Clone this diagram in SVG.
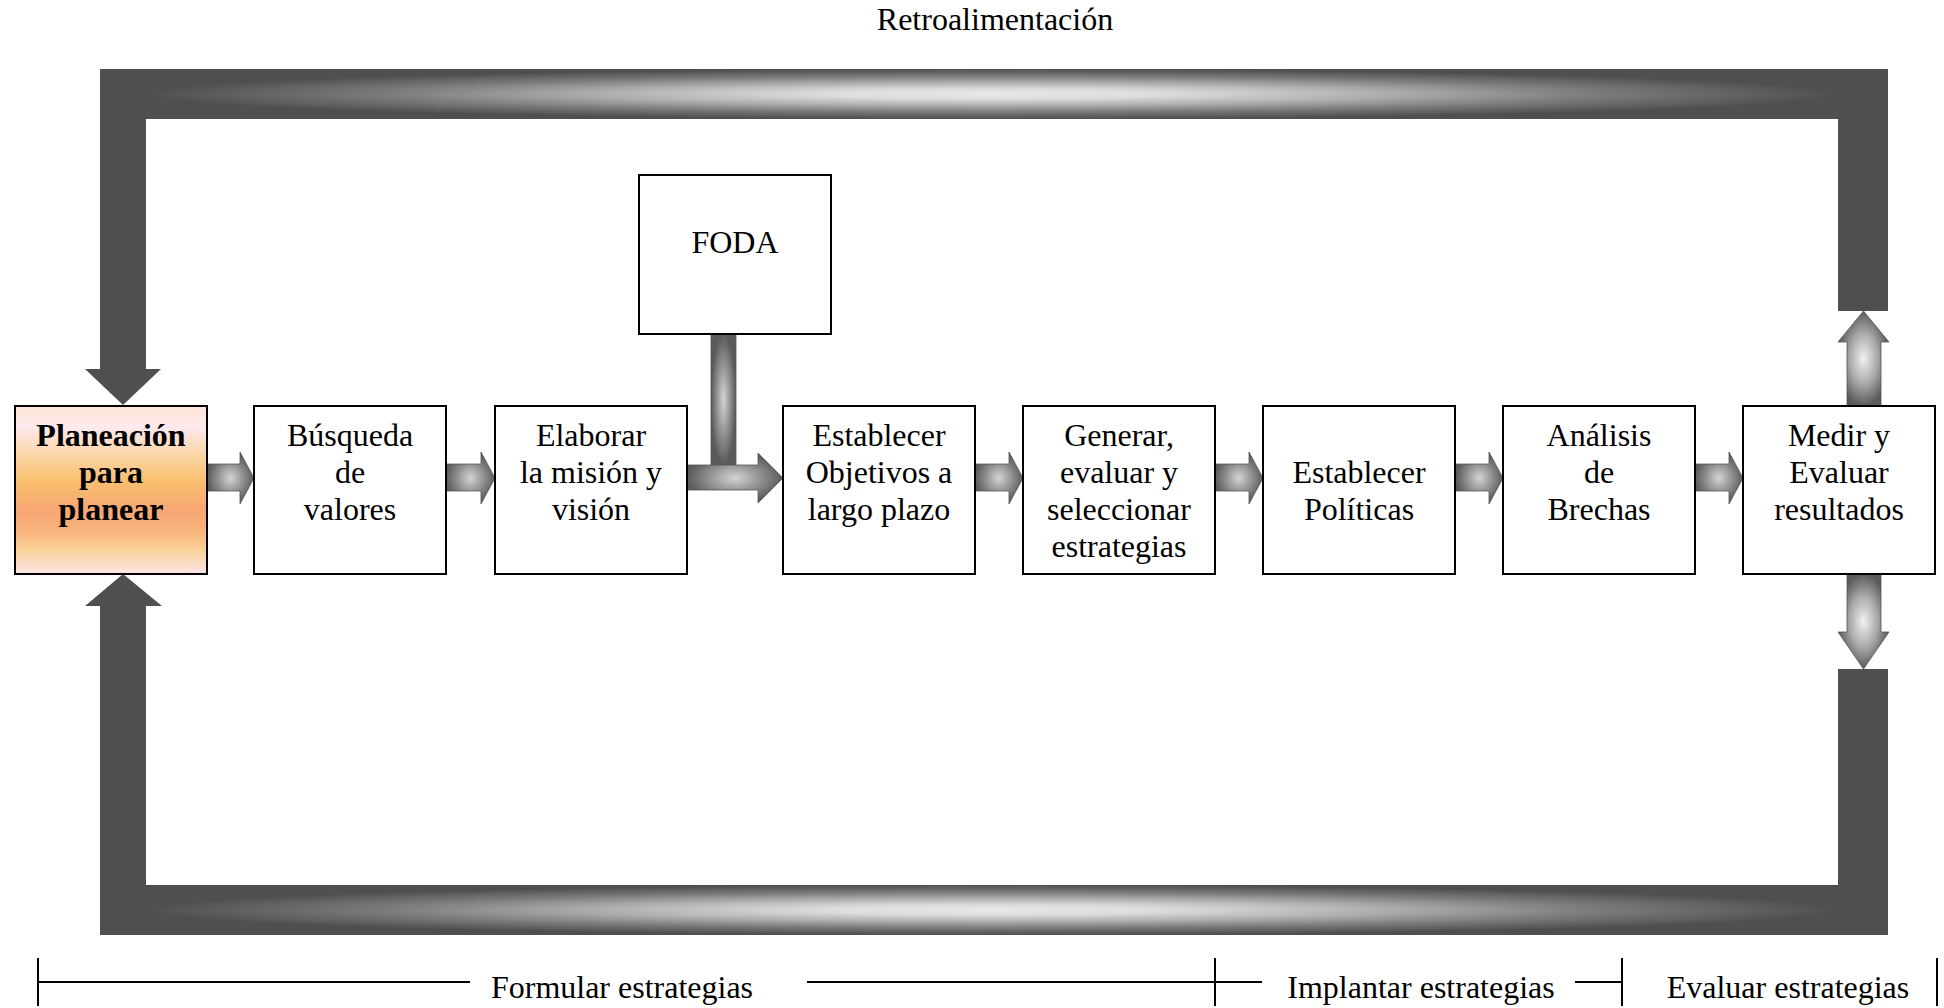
<svg xmlns="http://www.w3.org/2000/svg" width="1944" height="1008" viewBox="0 0 1944 1008">
  <defs>
    <style>
      .box { fill: #ffffff; stroke: #000000; stroke-width: 2; }
      .t { font-family: "Liberation Serif", "Times New Roman", serif; font-size: 32px; text-anchor: middle; fill: #000000; }
      .bold { font-weight: bold; }
      .bar { fill: #4f4f4f; }
      .tube { fill: url(#tubeGrad); }
      .arrH { fill: url(#arrowGrad); stroke: #555555; stroke-width: 0.8; }
      .arrV { fill: url(#arrowVGrad); stroke: #555555; stroke-width: 0.8; }
      .scale { stroke: #000000; stroke-width: 2; fill: none; }
    </style>
    <!-- warm fill of the starting step -->
    <linearGradient id="startGrad" x1="0" y1="0" x2="0" y2="1">
      <stop offset="0" stop-color="#fbe4d2"/>
      <stop offset="0.12" stop-color="#fdeaee"/>
      <stop offset="0.3" stop-color="#fbd5a4"/>
      <stop offset="0.45" stop-color="#f9bf6e"/>
      <stop offset="0.62" stop-color="#f7a674"/>
      <stop offset="0.75" stop-color="#f8b47c"/>
      <stop offset="0.86" stop-color="#fad39a"/>
      <stop offset="1" stop-color="#fde3e8"/>
    </linearGradient>
    <!-- feedback tube: light centre fading to dark ends and edges -->
    <radialGradient id="tubeGrad" cx="0.5" cy="0.5" r="0.5">
      <stop offset="0" stop-color="#e8e8e8"/>
      <stop offset="0.2" stop-color="#dcdcdc"/>
      <stop offset="0.45" stop-color="#b0b0b0"/>
      <stop offset="0.72" stop-color="#7a7a7a"/>
      <stop offset="1" stop-color="#4f4f4f"/>
    </radialGradient>
    <radialGradient id="arrowGrad" cx="0.5" cy="0.5" r="0.5">
      <stop offset="0" stop-color="#d4d4d4"/>
      <stop offset="0.6" stop-color="#8a8a8a"/>
      <stop offset="1" stop-color="#5a5a5a"/>
    </radialGradient>
    <radialGradient id="arrowVGrad" cx="0.5" cy="0.5" r="0.5">
      <stop offset="0" stop-color="#f2f2f2"/>
      <stop offset="0.55" stop-color="#a8a8a8"/>
      <stop offset="1" stop-color="#5a5a5a"/>
    </radialGradient>
  </defs>

  <rect width="1944" height="1008" fill="#ffffff"/>

  <text class="t" x="995" y="30">Retroalimentación</text>

  <!-- feedback loop and flow arrows -->
  <g id="connectors">
    <!-- top return tube -->
    <rect class="tube" x="146" y="69" width="1692" height="50"/>
    <path class="bar" d="M100,69 H146 V369 H161 L123,405 L85,369 H100 Z"/>
    <rect class="bar" x="1838" y="69" width="50" height="242"/>
    <!-- bottom return tube -->
    <rect class="tube" x="146" y="885" width="1692" height="50"/>
    <path class="bar" d="M100,935 H146 V606 H162 L123,574 L85,606 H100 Z"/>
    <rect class="bar" x="1838" y="669" width="50" height="266"/>

    <!-- outputs of the last step -->
    <path class="arrV" d="M1847,406 V342 H1838 L1863.5,311 L1889,342 H1881 V406 Z"/>
    <path class="arrV" d="M1847,574 V632 H1838 L1863.5,669 L1889,632 H1881 V574 Z"/>

    <!-- step-to-step arrows -->
    <path class="arrH" d="M207,464 H240 V452 L254,478 L240,504 V491 H207 Z"/>
    <path class="arrH" d="M446,464 H481 V452 L495,478 L481,504 V491 H446 Z"/>
    <rect class="arrH" x="711" y="334" width="25" height="131"/>
    <path class="arrH" d="M687,465 H758 V453 L783,478 L758,503 V490 H687 Z"/>
    <path class="arrH" d="M975,464 H1009 V452 L1023,478 L1009,504 V491 H975 Z"/>
    <path class="arrH" d="M1215,464 H1249 V452 L1263,478 L1249,504 V491 H1215 Z"/>
    <path class="arrH" d="M1456,464 H1489 V452 L1503,478 L1489,504 V491 H1456 Z"/>
    <path class="arrH" d="M1695,464 H1729 V452 L1743,478 L1729,504 V491 H1695 Z"/>
  </g>

  <g id="foda">
    <rect class="box" x="639" y="175" width="192" height="159"/>
    <text class="t" x="735" y="253">FODA</text>
  </g>

  <g id="planeacion">
    <rect x="15" y="406" width="192" height="168" fill="url(#startGrad)" stroke="#000" stroke-width="2"/>
    <text class="t bold" x="111" y="446">Planeación</text>
    <text class="t bold" x="111" y="483">para</text>
    <text class="t bold" x="111" y="520">planear</text>
  </g>

  <g id="busqueda">
    <rect class="box" x="254" y="406" width="192" height="168"/>
    <text class="t" x="350" y="446">Búsqueda</text>
    <text class="t" x="350" y="483">de</text>
    <text class="t" x="350" y="520">valores</text>
  </g>

  <g id="mision">
    <rect class="box" x="495" y="406" width="192" height="168"/>
    <text class="t" x="591" y="446">Elaborar</text>
    <text class="t" x="591" y="483">la misión y</text>
    <text class="t" x="591" y="520">visión</text>
  </g>

  <g id="objetivos">
    <rect class="box" x="783" y="406" width="192" height="168"/>
    <text class="t" x="879" y="446">Establecer</text>
    <text class="t" x="879" y="483">Objetivos a</text>
    <text class="t" x="879" y="520">largo plazo</text>
  </g>

  <g id="estrategias">
    <rect class="box" x="1023" y="406" width="192" height="168"/>
    <text class="t" x="1119" y="446">Generar,</text>
    <text class="t" x="1119" y="483">evaluar y</text>
    <text class="t" x="1119" y="520">seleccionar</text>
    <text class="t" x="1119" y="557">estrategias</text>
  </g>

  <g id="politicas">
    <rect class="box" x="1263" y="406" width="192" height="168"/>
    <text class="t" x="1359" y="483">Establecer</text>
    <text class="t" x="1359" y="520">Políticas</text>
  </g>

  <g id="brechas">
    <rect class="box" x="1503" y="406" width="192" height="168"/>
    <text class="t" x="1599" y="446">Análisis</text>
    <text class="t" x="1599" y="483">de</text>
    <text class="t" x="1599" y="520">Brechas</text>
  </g>

  <g id="medir">
    <rect class="box" x="1743" y="406" width="192" height="168"/>
    <text class="t" x="1839" y="446">Medir y</text>
    <text class="t" x="1839" y="483">Evaluar</text>
    <text class="t" x="1839" y="520">resultados</text>
  </g>

  <!-- phase scale along the bottom -->
  <g id="fases">
    <path class="scale" d="M38,958 V1006 M1215,958 V1006 M1622,958 V1006 M1937,958 V1006"/>
    <path class="scale" d="M38,982 H470 M807,982 H1262 M1575,982 H1622"/>
    <text class="t" x="622" y="998">Formular estrategias</text>
    <text class="t" x="1421" y="998">Implantar estrategias</text>
    <text class="t" x="1788" y="998">Evaluar estrategias</text>
  </g>
</svg>
